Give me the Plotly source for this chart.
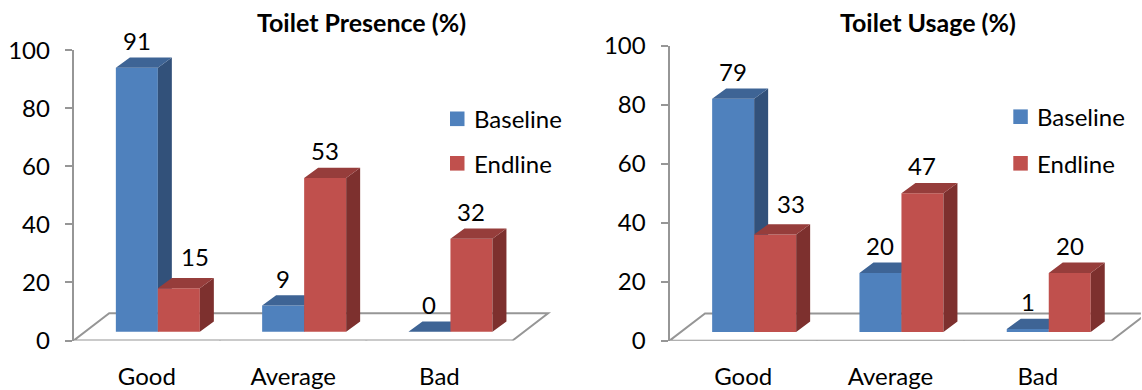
import plotly.graph_objects as go

# ---------------- data ----------------
categories = ["Good", "Average", "Bad"]
series_names = ["Baseline", "Endline"]
presence_baseline = [91, 9, 0]
presence_endline = [15, 53, 32]
usage_baseline = [79, 20, 1]
usage_endline = [33, 47, 20]
y_ticks = [0, 20, 40, 60, 80, 100]
titles = ["Toilet Presence (%)", "Toilet Usage (%)"]

# ---------------- style / geometry ----------------
W, H = 1142, 390
FONT = "Lato"
FS = 24
TXT = "#000000"
GRID = "#969696"
COLORS = [
    dict(front="#4F81BD", top="#3E6495", side="#32517A"),   # Baseline
    dict(front="#C0504D", top="#963D3B", side="#7D302E"),   # Endline
]
BAR_W = 42.0            # px, width of one bar's front face
FRONT_OFF = (11.0, 8.8)  # px, offset of bar front plane from floor front edge
BAR_DEPTH = (14.0, 10.3)  # px, depth of each bar (right, up)
FLOOR_DEPTH = (35.5, 27.2)  # px, depth of floor
LABEL_LIFT = 17         # px above top back edge
LABEL_NUDGE = {("Endline", "Good"): (16, 4)}

panels = [
    dict(values=[presence_baseline, presence_endline], title=titles[0],
         x0=73.7, sx=146.3, y0=340.5, sy=2.901, xmax=3.3,
         title_cx=361, legend_sq_x=450, legend_cy=[118.8, 163.3], legend_tx=472,
         ax=("x", "y"), ov=("x3", "y3")),
    dict(values=[usage_baseline, usage_endline], title=titles[1],
         x0=669.5, sx=147.3, y0=340.7, sy=2.95, xmax=3.2,
         title_cx=928, legend_sq_x=1013.3, legend_cy=[116.7, 163.3], legend_tx=1035.3,
         ax=("x2", "y2"), ov=("x4", "y4")),
]

fig = go.Figure()
shapes, annotations = [], []
layout_axes = {}


def axkey(name):
    return name[0] + "axis" + name[1:]


for p in panels:
    sx, sy = p["sx"], p["sy"]
    bw = BAR_W / sx
    ox, oy = FRONT_OFF[0] / sx, FRONT_OFF[1] / sy
    dx, dy = BAR_DEPTH[0] / sx, BAR_DEPTH[1] / sy
    fx, fy = FLOOR_DEPTH[0] / sx, FLOOR_DEPTH[1] / sy
    n = len(categories)
    bx, by = p["ax"]
    vx, vy = p["ov"]

    # axes
    xdom = [p["x0"] / W, min(1.0, (p["x0"] + p["xmax"] * sx) / W)]
    ydom = [(H - p["y0"]) / H, (H - (p["y0"] - 100 * sy)) / H]
    layout_axes[axkey(bx)] = dict(
        domain=xdom, range=[0, p["xmax"]], anchor=by,
        tickmode="array", tickvals=[k + 0.5 for k in range(n)], ticktext=categories,
        ticks="", showline=False, showgrid=False, zeroline=False,
        tickfont=dict(family=FONT, size=FS, color=TXT), ticklabelstandoff=19,
        automargin=False, fixedrange=True)
    layout_axes[axkey(by)] = dict(
        domain=ydom, range=[0, 100], anchor=bx,
        tickmode="array", tickvals=y_ticks,
        showline=True, linecolor=GRID, linewidth=2,
        ticks="outside", ticklen=7, tickwidth=2, tickcolor=GRID,
        showgrid=False, zeroline=False,
        tickfont=dict(family=FONT, size=FS, color=TXT), ticklabelstandoff=10,
        automargin=False, fixedrange=True)
    layout_axes[axkey(vx)] = dict(overlaying=bx, range=[0, p["xmax"]], anchor=vy,
                                  visible=False, fixedrange=True)
    layout_axes[axkey(vy)] = dict(overlaying=by, range=[0, 100], anchor=vx,
                                  visible=False, fixedrange=True)

    # floor (drawn below all traces)
    shapes.append(dict(
        type="path", xref=bx, yref=by, layer="below",
        path=f"M 0,0 L {n},0 L {n + fx},{fy} L {fx},{fy} Z",
        line=dict(color=GRID, width=2)))
    # category boundary tick marks on the floor front edge
    for k in range(n + 1):
        shapes.append(dict(type="line", xref=bx, yref=by, x0=k, x1=k,
                           ysizemode="pixel", yanchor=0, y0=0, y1=-8,
                           line=dict(color=GRID, width=2)))

    for j, (name, vals) in enumerate(zip(series_names, p["values"])):
        col = COLORS[j]
        xa, ya = (bx, by) if j == 0 else (vx, vy)
        lefts = [k + 0.5 + ox - bw + j * bw for k in range(n)]
        centers = [l + bw / 2 for l in lefts]
        fig.add_trace(go.Bar(
            x=centers, y=vals, base=oy, width=bw, name=name,
            marker=dict(color=col["front"], line=dict(width=0)),
            xaxis=xa, yaxis=ya, showlegend=False, hoverinfo="skip"))
        sxs, sys_, txs, tys = [], [], [], []
        for l, v in zip(lefts, vals):
            r = l + bw
            t = oy + v
            sxs += [r, r, r + dx, r + dx, r, None]
            sys_ += [oy, t, t + dy, oy + dy, oy, None]
            txs += [l, r, r + dx, l + dx, l, None]
            tys += [t, t, t + dy, t + dy, t, None]
        fig.add_trace(go.Scatter(x=sxs, y=sys_, mode="lines", fill="toself",
                                 fillcolor=col["side"], line=dict(width=0),
                                 xaxis=xa, yaxis=ya, showlegend=False, hoverinfo="skip"))
        fig.add_trace(go.Scatter(x=txs, y=tys, mode="lines", fill="toself",
                                 fillcolor=col["top"], line=dict(width=0),
                                 xaxis=xa, yaxis=ya, showlegend=False, hoverinfo="skip"))
        # data labels
        for cat, c, v in zip(categories, centers, vals):
            nx, ny = LABEL_NUDGE.get((name, cat), (0, 0))
            annotations.append(dict(
                x=c, y=oy + v + dy, xref=bx, yref=by, text=str(v), showarrow=False,
                xanchor="center", yanchor="middle", xshift=nx, yshift=LABEL_LIFT + ny,
                font=dict(family=FONT, size=FS, color=TXT)))

        # legend entry
        cy = p["legend_cy"][j]
        shapes.append(dict(type="rect", xref="paper", yref="paper",
                           x0=p["legend_sq_x"] / W, x1=(p["legend_sq_x"] + 14.5) / W,
                           y0=(H - cy - 7.3) / H, y1=(H - cy + 7.3) / H,
                           fillcolor=col["front"], line=dict(width=0)))
        annotations.append(dict(x=p["legend_tx"] / W, y=(H - cy) / H, xref="paper", yref="paper",
                                text=name, showarrow=False, xanchor="left", yanchor="middle",
                                font=dict(family=FONT, size=FS, color=TXT)))

    # title
    annotations.append(dict(x=p["title_cx"] / W, y=(H - 22) / H, xref="paper", yref="paper",
                            text=f"<b>{p['title']}</b>", showarrow=False,
                            xanchor="center", yanchor="middle",
                            font=dict(family=FONT, size=25, color=TXT)))

fig.update_layout(
    width=W, height=H, margin=dict(l=0, r=0, t=0, b=0),
    paper_bgcolor="white", plot_bgcolor="rgba(0,0,0,0)",
    barmode="overlay", showlegend=False,
    shapes=shapes, annotations=annotations,
    **layout_axes)

fig.write_html("out.html",
               config={"displayModeBar": False, "staticPlot": True},
               post_script="document.body.style.margin='0px';document.body.style.overflow='hidden';")
